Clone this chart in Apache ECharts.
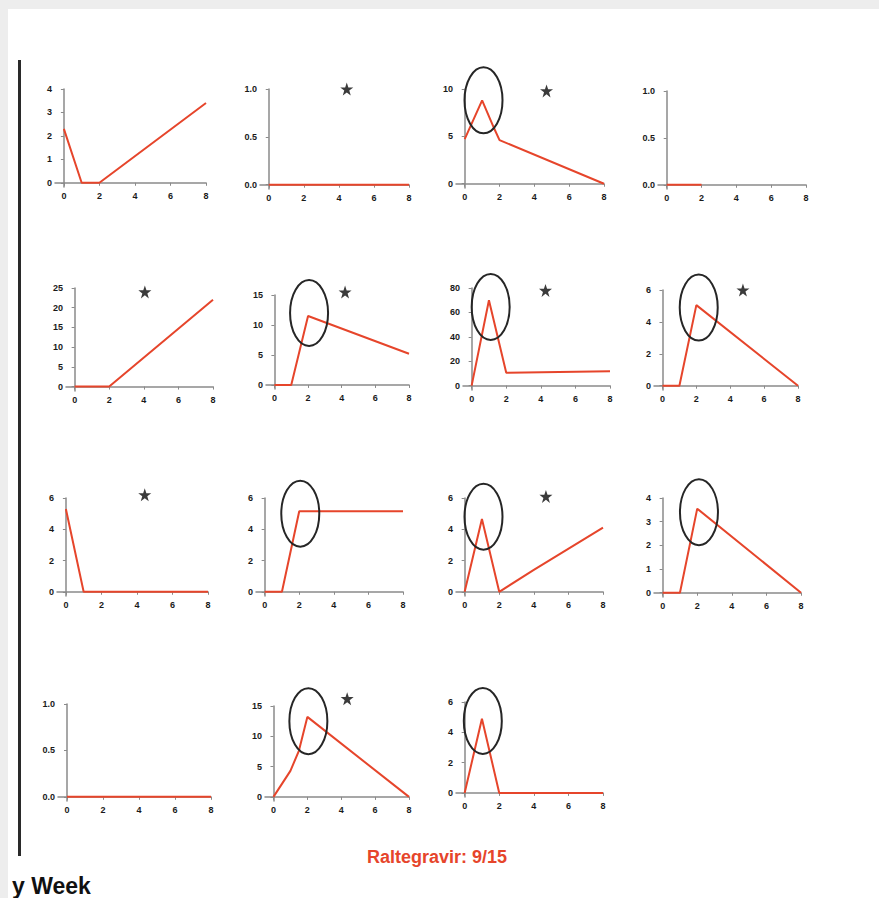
<!DOCTYPE html>
<html>
<head>
<meta charset="utf-8">
<script src="https://cdn.jsdelivr.net/npm/echarts@6/dist/echarts.min.js"></script>
<style>
html,body{margin:0;padding:0;width:879px;height:898px;background:#ededed;overflow:hidden;}
#sheet{position:absolute;left:8px;top:9px;right:0;bottom:0;background:#fff;}
#bar{position:absolute;left:18px;top:60px;width:3px;height:796px;background:#2a2a2a;}
#main{position:absolute;left:0;top:0;width:879px;height:898px;}
</style>
</head>
<body>
<div id="sheet"></div>
<div id="bar"></div>
<div id="main"></div>
<script>
// ---- data: [week, value] per patient panel ----
const s1  = [[0,2.3],[1,0],[2,0],[8,3.4]];
const s2  = [[0,0],[2,0],[4,0],[6,0],[8,0]];
const s3  = [[0,4.7],[1,8.8],[1.7,5.8],[2,4.6],[8,0]];
const s4  = [[0,0],[1,0],[2,0]];
const s5  = [[0,0],[1,0],[2,0],[8,22]];
const s6  = [[0,0],[1,0],[2,11.5],[8,5.2]];
const s7  = [[0,0],[1,70],[2,10.5],[8,11.8]];
const s8  = [[0,0],[1,0],[2,5.05],[8,0]];
const s9  = [[0,5.3],[1,0],[8,0]];
const s10 = [[0,0],[1,0],[2,5.15],[8,5.15]];
const s11 = [[0,0],[1,4.65],[2,0],[4,1.4],[8,4.1]];
const s12 = [[0,0],[1,0],[2,3.55],[8,0]];
const s13 = [[0,0],[2,0],[4,0],[6,0],[8,0]];
const s14 = [[0,0],[1,4.3],[1.5,7.6],[2,13.2],[8,0]];
const s15 = [[0,0],[1,4.9],[2,0],[8,0]];
const seriesData = [s1,s2,s3,s4,s5,s6,s7,s8,s9,s10,s11,s12,s13,s14,s15];

// y-axis tick labels per panel
const yt1  = [0,1,2,3,4];
const yt2  = [0,0.5,1.0];
const yt3  = [0,5,10];
const yt4  = [0,0.5,1.0];
const yt5  = [0,5,10,15,20,25];
const yt6  = [0,5,10,15];
const yt7  = [0,20,40,60,80];
const yt8  = [0,2,4,6];
const yt9  = [0,2,4,6];
const yt10 = [0,2,4,6];
const yt11 = [0,2,4,6];
const yt12 = [0,1,2,3,4];
const yt13 = [0,0.5,1.0];
const yt14 = [0,5,10,15];
const yt15 = [0,2,4,6];
const yTicks = [yt1,yt2,yt3,yt4,yt5,yt6,yt7,yt8,yt9,yt10,yt11,yt12,yt13,yt14,yt15];
const xTicks = [0,2,4,6,8];

// significance stars: [panelIndex, week, value]
const stars = [[1,4.45,1.0],[2,4.7,9.8],[4,4.06,24],[5,4.2,15.5],[6,4.27,78],[7,4.75,6],[8,4.44,6.2],[10,4.7,6.1],[13,4.35,16.2]];
// circled peaks: [panelIndex, week, value]
const circles = [[2,1.08,8.8],[5,2.06,12],[6,1.1,64.5],[7,2.14,4.9],[9,2.06,5.0],[10,1.09,4.8],[11,2.1,3.4],[13,2.06,12.5],[14,1.05,4.75]];

const titleText = 'Raltegravir: 9/15';
const footText = 'y Week';

// ---- layout (pixels) ----
const layout = [
 {l:55,r:206,t:89,b:187},{l:260,r:409,t:89,b:189},{l:456,r:604,t:89,b:188},{l:658,r:806,t:91,b:189},
 {l:66,r:213,t:288,b:391},{l:266,r:409,t:295,b:389},{l:463,r:610,t:288,b:390},{l:654,r:798,t:290,b:390},
 {l:57,r:208,t:498,b:596},{l:256,r:403,t:498,b:596},{l:456,r:603,t:498,b:596},{l:654,r:801,t:498,b:597},
 {l:58,r:211,t:704,b:801},{l:265,r:409,t:706,b:801},{l:456,r:603,t:702,b:797}
];

const RED = '#e6452b';
const grids=[], xAxes=[], yAxes=[], series=[];
const labelStyle = {fontSize:9, fontWeight:'bold', color:'#1a1a1a', fontFamily:'Liberation Sans, Arial, sans-serif'};
const axLine = {show:true, lineStyle:{color:'#8a8a8a', width:1.5}};

seriesData.forEach((d,i)=>{
  const L = layout[i];
  const yt = yTicks[i];
  const ymax = yt[yt.length-1];
  const dec = yt.some(v=>v%1!==0);
  grids.push({left:L.l, top:L.t, width:L.r-L.l, height:L.b-L.t, containLabel:false});
  xAxes.push({gridIndex:i, type:'value', min:-0.5, max:8,
    axisLine:axLine, splitLine:{show:false},
    axisTick:{show:true, length:3, customValues:xTicks, lineStyle:{color:'#8a8a8a'}},
    axisLabel:Object.assign({customValues:xTicks, margin:4}, labelStyle)});
  yAxes.push({gridIndex:i, type:'value', min:-ymax*0.045, max:ymax,
    axisLine:axLine, splitLine:{show:false},
    axisTick:{show:true, length:3, customValues:yt, lineStyle:{color:'#8a8a8a'}},
    axisLabel:Object.assign({customValues:yt, margin:3, formatter:v=>dec?Number(v).toFixed(1):String(Math.round(v))}, labelStyle)});
  series.push({type:'line', xAxisIndex:i, yAxisIndex:i, data:d, showSymbol:false, symbol:'none',
    lineStyle:{color:RED, width:2}, silent:true, animation:false, z:3, clip:false});
});

const starPath = 'path://M50,0 L62,35 L99,35 L69,57 L80,93 L50,71 L20,93 L31,57 L1,35 L38,35 Z';
stars.forEach(s=>{
  series.push({type:'scatter', xAxisIndex:s[0], yAxisIndex:s[0], data:[[s[1],s[2]]],
    symbol:starPath, symbolSize:13, itemStyle:{color:'#0a0a0a'}, silent:true, animation:false, clip:false, z:5});
});
circles.forEach(c=>{
  series.push({type:'custom', xAxisIndex:c[0], yAxisIndex:c[0], data:[[c[1],c[2]]], silent:true, animation:false, clip:false, z:6,
    renderItem:(params, api)=>{
      const p = api.coord([api.value(0), api.value(1)]);
      return {type:'ellipse', shape:{cx:p[0], cy:p[1], rx:19, ry:33},
        style:{fill:'none', stroke:'#262626', lineWidth:2}};
    }});
});

const chart = echarts.init(document.getElementById('main'), null, {renderer:'svg', width:879, height:898});
chart.setOption({
  animation:false,
  backgroundColor:'transparent',
  grid:grids, xAxis:xAxes, yAxis:yAxes, series:series,
  title:[
    {text:titleText, left:362, top:843, textStyle:{color:'#e6452b', fontSize:18, fontWeight:'bold', fontFamily:'Liberation Sans Narrow, Arial Narrow, Liberation Sans, sans-serif'}},
    {text:footText, left:7, top:869, textStyle:{color:'#111', fontSize:23, fontWeight:'bold', fontFamily:'Liberation Sans Narrow, Arial Narrow, Liberation Sans, sans-serif'}}
  ]
});
</script>
</body>
</html>
